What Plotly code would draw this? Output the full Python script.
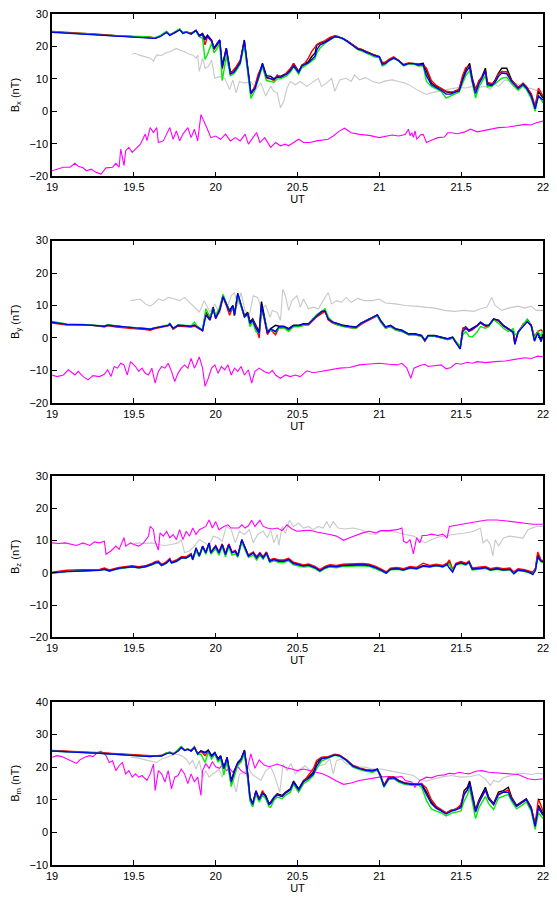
import plotly.graph_objects as go

# ---------------- Bx panel ----------------
BX_T = [19.0, 19.1, 19.2, 19.3, 19.4, 19.5, 19.55, 19.6, 19.63, 19.66,
        19.7, 19.72, 19.75, 19.78, 19.8, 19.82, 19.85, 19.88, 19.9, 19.92,
        19.935, 19.95, 19.975, 19.99, 20.01, 20.025, 20.04, 20.065, 20.09, 20.11,
        20.125, 20.15, 20.175, 20.19, 20.215, 20.24, 20.26, 20.286, 20.31, 20.336,
        20.356, 20.376, 20.396, 20.416, 20.436, 20.456, 20.476, 20.507, 20.527, 20.547,
        20.567, 20.587, 20.607, 20.618, 20.638, 20.668, 20.698, 20.728, 20.748, 20.778,
        20.808, 20.838, 20.868, 20.898, 20.918, 20.948, 20.968, 21.0, 21.018, 21.038,
        21.058, 21.088, 21.118, 21.148, 21.178, 21.208, 21.238, 21.268, 21.288, 21.318,
        21.348, 21.378, 21.408, 21.438, 21.468, 21.488, 21.508, 21.528, 21.552, 21.568,
        21.588, 21.608, 21.628, 21.648, 21.66, 21.688, 21.708, 21.728, 21.748, 21.778,
        21.808, 21.848, 21.878, 21.898, 21.928, 21.952, 21.972, 22.0]
BX_C1 = [24.5, 24.2, 24.0, 23.6, 23.3, 23.0, 23.0, 22.8, 22.6, 23.2,
         24.5, 23.5, 24.3, 25.3, 24.2, 24.5, 24.0, 25.0, 23.4, 24.0,
         22.5, 23.5, 22.0, 19.5, 21.0, 22.0, 14.0, 19.5, 12.0, 12.5,
         13.3, 15.3, 22.0, 16.0, 5.7, 7.5, 11.0, 14.8, 11.0, 10.8,
         10.0, 10.8, 10.8, 11.3, 11.8, 12.8, 14.8, 12.3, 14.3, 14.8,
         15.3, 16.9, 17.9, 20.4, 21.0, 21.5, 22.5, 23.2, 23.0, 22.5,
         21.6, 20.6, 19.4, 18.9, 18.4, 17.9, 17.4, 16.9, 14.8, 15.0,
         15.8, 16.6, 15.7, 14.3, 14.8, 14.8, 14.5, 14.8, 12.3, 8.7,
         7.7, 7.0, 6.0, 5.7, 6.4, 6.7, 10.2, 12.8, 14.8, 10.2,
         6.7, 9.2, 10.8, 13.3, 8.7, 8.2, 9.7, 11.8, 13.3, 13.3,
         9.7, 7.2, 8.7, 7.7, 5.2, 1.3, 6.2, 4.1]
BX_C2 = [24.6, 24.3, 24.1, 23.7, 23.2, 23.1, 22.9, 22.9, 22.5, 23.1,
         24.4, 23.6, 24.2, 25.2, 24.3, 24.4, 24.1, 24.8, 23.2, 23.6,
         20.5, 23.0, 21.5, 19.0, 20.5, 21.5, 13.0, 19.0, 11.5, 12.8,
         13.8, 15.8, 21.5, 15.0, 5.2, 7.8, 11.5, 14.2, 10.2, 10.0,
         9.5, 11.2, 10.5, 11.0, 12.0, 13.2, 14.5, 12.0, 14.0, 15.0,
         16.5, 18.5, 19.8, 20.6, 21.2, 21.8, 22.8, 23.3, 23.1, 22.4,
         21.5, 20.5, 19.5, 19.0, 18.3, 17.8, 17.5, 16.8, 15.0, 15.2,
         16.0, 16.8, 15.5, 14.5, 14.9, 14.7, 14.3, 14.3, 13.3, 9.5,
         8.0, 7.2, 6.2, 6.0, 6.2, 7.0, 11.0, 13.5, 13.8, 9.5,
         6.5, 9.5, 10.5, 12.5, 9.0, 8.5, 9.2, 11.5, 12.3, 12.2,
         9.5, 7.5, 8.5, 7.5, 5.5, 1.6, 7.2, 4.8]
BX_C3 = [24.6, 24.1, 24.0, 23.5, 23.3, 23.0, 23.1, 22.8, 22.7, 23.3,
         24.7, 23.4, 24.4, 25.4, 24.0, 24.6, 23.8, 24.8, 23.0, 22.5,
         16.0, 17.5, 21.0, 18.0, 19.5, 21.0, 9.5, 17.0, 11.0, 11.5,
         12.5, 14.5, 20.5, 14.0, 4.0, 6.5, 10.0, 13.8, 9.5, 9.2,
         9.0, 10.0, 10.0, 10.5, 11.0, 12.0, 13.8, 11.5, 13.5, 14.0,
         14.8, 15.5, 16.3, 18.0, 19.5, 21.0, 22.0, 23.0, 22.9, 22.3,
         21.3, 20.3, 19.0, 18.5, 18.0, 17.3, 16.8, 16.5, 14.0, 14.5,
         15.5, 16.3, 15.5, 14.0, 14.6, 14.6, 14.0, 14.0, 9.2, 7.7,
         7.0, 6.2, 4.1, 4.8, 5.5, 6.0, 8.5, 11.0, 12.5, 8.5,
         4.1, 7.5, 9.5, 11.0, 7.5, 7.8, 8.5, 9.5, 10.2, 10.5,
         8.5, 6.5, 7.8, 6.8, 4.0, 0.0, 5.0, 2.6]
BX_C4 = [24.4, 24.1, 23.9, 23.5, 23.2, 22.9, 22.9, 22.7, 22.5, 23.0,
         24.3, 23.4, 24.2, 25.1, 24.0, 24.4, 23.8, 24.9, 23.2, 23.8,
         22.0, 23.2, 21.8, 19.3, 20.8, 22.0, 13.5, 19.5, 11.5, 12.0,
         13.0, 15.0, 21.8, 15.5, 5.5, 7.0, 10.5, 14.5, 10.5, 10.2,
         9.8, 10.5, 10.5, 11.0, 11.5, 12.5, 14.0, 12.0, 14.0, 14.5,
         15.0, 16.0, 17.0, 19.0, 20.5, 21.2, 22.2, 23.0, 22.9, 22.4,
         21.4, 20.4, 19.2, 18.8, 18.2, 17.7, 17.2, 16.8, 14.5, 14.8,
         15.6, 16.4, 15.6, 14.2, 14.7, 14.7, 14.3, 14.4, 11.0, 8.2,
         7.3, 6.5, 5.3, 5.3, 6.0, 6.3, 9.5, 12.0, 13.8, 9.3,
         5.5, 8.5, 10.2, 12.5, 8.2, 8.0, 9.0, 10.8, 11.8, 11.6,
         9.2, 7.0, 8.3, 7.2, 4.7, 0.8, 4.7, 3.5]
BX_GREY_T = [19.49, 19.51, 19.53, 19.57, 19.60, 19.62, 19.64, 19.67, 19.69, 19.72,
             19.76, 19.78, 19.81, 19.84, 19.86, 19.88, 19.89, 19.90, 19.92, 19.935,
             19.955, 19.975, 19.995, 20.025, 20.055, 20.085, 20.105, 20.125, 20.145, 20.176,
             20.215, 20.246, 20.276, 20.306, 20.336, 20.356, 20.376, 20.396, 20.416, 20.436,
             20.456, 20.486, 20.517, 20.557, 20.597, 20.627, 20.647, 20.677, 20.708, 20.728,
             20.758, 20.798, 20.828, 20.848, 20.878, 20.918, 20.958, 21.0, 21.038, 21.078,
             21.118, 21.158, 21.198, 21.238, 21.288, 21.318, 21.378, 21.438, 21.488, 21.528,
             21.568, 21.608, 21.648, 21.678, 21.698, 21.728, 21.768, 21.808, 21.848, 21.888,
             21.928, 21.968, 22.0]
BX_GREY = [17.6, 17.9, 17.4, 16.9, 16.4, 15.5, 17.4, 17.2, 17.9, 18.4,
           19.4, 18.9, 18.4, 17.6, 17.4, 16.4, 17.4, 12.3, 16.4, 13.3,
           13.8, 15.8, 10.2, 10.7, 10.2, 6.7, 9.7, 5.7, 9.2, 8.7,
           9.2, 6.7, 8.7, 4.7, 7.7, 6.2, 5.7, 1.1, 3.1, 7.2,
           9.2, 8.2, 9.2, 7.7, 9.2, 10.2, 7.7, 8.7, 10.2, 6.2,
           9.7, 10.2, 9.2, 11.3, 9.7, 10.4, 9.2, 8.7, 9.4, 9.7,
           9.2, 8.7, 7.7, 6.4, 5.2, 5.7, 6.4, 7.0, 7.4, 7.2,
           7.7, 7.4, 7.7, 6.7, 8.7, 7.7, 9.7, 9.2, 8.2, 7.4,
           7.0, 6.4, 6.2]
BX_MAG_T = [19.0, 19.03, 19.07, 19.11, 19.14, 19.16, 19.19, 19.21, 19.24, 19.27,
            19.30, 19.33, 19.37, 19.39, 19.41, 19.42, 19.44, 19.45, 19.47, 19.49,
            19.51, 19.54, 19.57, 19.58, 19.60, 19.62, 19.64, 19.65, 19.68, 19.70,
            19.72, 19.74, 19.76, 19.78, 19.80, 19.83, 19.85, 19.87, 19.89, 19.91,
            19.93, 19.95, 19.97, 20.0, 20.03, 20.06, 20.09, 20.12, 20.15, 20.18,
            20.20, 20.23, 20.25, 20.27, 20.30, 20.336, 20.366, 20.396, 20.426, 20.446,
            20.476, 20.507, 20.537, 20.577, 20.617, 20.657, 20.687, 20.718, 20.758, 20.788,
            20.828, 20.878, 20.938, 21.0, 21.038, 21.078, 21.118, 21.158, 21.178, 21.188,
            21.198, 21.208, 21.218, 21.228, 21.238, 21.252, 21.268, 21.288, 21.318, 21.358,
            21.398, 21.418, 21.438, 21.478, 21.518, 21.558, 21.598, 21.648, 21.688, 21.728,
            21.788, 21.848, 21.888, 21.928, 21.958, 22.0]
BX_MAG = [-18.3, -17.8, -17.2, -17.2, -16.0, -16.9, -17.4, -18.3, -17.8, -18.8,
          -19.3, -17.4, -17.2, -16.0, -17.2, -11.6, -16.7, -12.1, -11.1, -12.6,
          -11.6, -10.1, -7.0, -9.0, -5.0, -6.5, -5.0, -9.6, -9.1, -7.0,
          -5.0, -8.6, -6.0, -9.1, -7.0, -5.0, -8.1, -5.5, -9.1, -1.0,
          -3.0, -5.5, -8.1, -7.6, -8.6, -7.0, -9.1, -8.1, -9.1, -7.0,
          -10.1, -8.1, -6.5, -9.6, -8.1, -11.1, -9.6, -10.6, -10.1, -10.6,
          -9.6, -8.6, -9.6, -9.6, -9.1, -8.9, -8.6, -7.6, -6.0, -5.2,
          -6.6, -7.1, -7.4, -8.1, -7.6, -7.3, -7.6, -7.1, -5.5, -7.5,
          -6.6, -8.0, -6.0, -8.5, -8.1, -7.2, -7.1, -9.6, -8.9, -8.1,
          -7.9, -6.6, -6.6, -6.9, -6.4, -5.5, -6.3, -5.8, -5.5, -5.0,
          -4.8, -4.3, -4.0, -4.2, -3.5, -3.0]

# ---------------- By panel ----------------
BY_T = [19.0, 19.09, 19.19, 19.27, 19.32, 19.34, 19.39, 19.45, 19.51, 19.57,
        19.6, 19.63, 19.67, 19.71, 19.72, 19.74, 19.77, 19.81, 19.85, 19.87,
        19.89, 19.92, 19.94, 19.965, 19.985, 20.0, 20.025, 20.045, 20.065, 20.085,
        20.105, 20.115, 20.135, 20.155, 20.176, 20.196, 20.21, 20.226, 20.246, 20.266,
        20.28, 20.296, 20.316, 20.336, 20.366, 20.386, 20.416, 20.446, 20.476, 20.507,
        20.537, 20.567, 20.597, 20.617, 20.647, 20.668, 20.688, 20.718, 20.748, 20.778,
        20.818, 20.858, 20.888, 20.918, 20.958, 20.988, 21.008, 21.038, 21.068, 21.098,
        21.138, 21.178, 21.218, 21.258, 21.278, 21.298, 21.338, 21.378, 21.418, 21.448,
        21.468, 21.494, 21.51, 21.528, 21.548, 21.568, 21.598, 21.618, 21.648, 21.668,
        21.698, 21.728, 21.758, 21.788, 21.818, 21.828, 21.848, 21.878, 21.904, 21.928,
        21.948, 21.968, 21.988, 22.0]
BY_C1 = [4.9, 4.2, 4.1, 3.9, 3.6, 4.0, 3.6, 3.3, 3.1, 2.9,
         2.7, 3.1, 3.6, 3.9, 4.4, 2.9, 3.9, 3.7, 3.6, 3.9,
         3.4, 2.4, 7.9, 5.9, 9.5, 6.4, 9.0, 13.0, 10.5, 8.5,
         10.0, 7.4, 13.5, 10.0, 6.9, 7.9, 4.9, 5.9, 3.9, 1.9,
         11.2, 6.9, 1.9, 2.9, 3.9, 3.6, 3.6, 2.9, 3.9, 3.9,
         4.4, 4.4, 5.9, 6.9, 7.9, 8.5, 5.9, 4.9, 4.4, 3.9,
         3.6, 3.4, 4.6, 5.4, 6.4, 7.1, 5.4, 3.4, 3.9, 2.9,
         2.4, 1.3, 1.3, 0.8, -0.7, 0.8, 0.8, 0.3, -0.2, 0.3,
         -1.2, -3.2, 2.9, 3.4, 2.4, 2.9, 3.9, 4.9, 3.9, 3.9,
         5.9, 5.4, 3.9, 2.9, 1.9, -1.7, 1.9, 3.9, 5.7, 3.9,
         -0.7, 1.9, -0.7, 1.3]
BY_C2 = [4.6, 4.0, 4.0, 3.8, 3.4, 3.8, 3.4, 3.0, 2.8, 2.6,
         2.4, 2.9, 3.4, 3.7, 4.2, 2.7, 3.7, 3.5, 3.4, 3.7,
         3.2, 2.2, 7.5, 5.5, 9.0, 6.0, 8.5, 12.5, 10.0, 7.0,
         9.5, 6.8, 13.0, 9.5, 6.5, 7.5, 4.0, 5.5, 3.5, 0.0,
         9.0, 6.0, 1.0, 2.5, 1.0, 3.0, 3.2, 2.5, 3.6, 3.5,
         4.0, 4.0, 5.5, 6.5, 7.5, 8.2, 5.5, 4.5, 4.0, 3.6,
         3.2, 3.0, 4.2, 5.0, 6.0, 6.8, 5.0, 3.0, 3.5, 2.5,
         2.0, 1.0, 1.0, 0.5, -1.0, 0.5, 0.5, 0.0, -0.5, 0.0,
         -1.5, -3.0, 3.0, 3.2, 2.0, 2.5, 3.6, 4.6, 3.6, 3.6,
         5.6, 5.2, 3.6, 2.6, 1.6, -1.5, 1.6, 4.3, 5.2, 4.0,
         0.5, 2.0, 2.5, 1.8]
BY_C3 = [5.1, 4.3, 4.2, 4.0, 3.7, 4.1, 3.7, 3.4, 3.2, 3.0,
         2.8, 3.2, 3.7, 4.0, 4.5, 3.0, 4.0, 3.8, 3.8, 4.9,
         3.5, 2.5, 9.0, 6.5, 9.0, 7.0, 9.5, 13.5, 11.0, 8.0,
         9.5, 7.0, 13.0, 9.5, 6.5, 7.0, 3.5, 5.0, 1.9, 1.5,
         8.0, 6.5, 2.5, 2.5, 1.8, 3.0, 3.2, 2.0, 3.5, 3.5,
         3.8, 4.2, 6.0, 7.2, 8.2, 9.0, 6.5, 4.7, 4.0, 3.5,
         3.2, 3.0, 4.5, 5.4, 6.3, 6.9, 5.0, 3.0, 3.5, 2.5,
         2.0, 1.0, 1.0, 0.5, -0.8, 0.5, 0.5, 0.0, -0.5, 0.0,
         -1.0, -2.5, 1.0, 2.0, 0.5, 0.3, 1.9, 3.5, 3.0, 3.5,
         5.7, 4.5, 3.0, 2.0, 2.9, 1.0, 1.5, 4.0, 5.7, 3.5,
         0.0, 2.0, 0.5, 2.5]
BY_C4 = [4.9, 4.2, 4.1, 3.9, 3.6, 3.9, 3.6, 3.3, 3.1, 2.9,
         2.7, 3.1, 3.6, 3.9, 4.3, 3.0, 3.9, 3.7, 3.6, 4.0,
         3.3, 2.3, 7.0, 5.5, 9.0, 6.0, 8.8, 12.8, 10.5, 8.0,
         10.0, 7.0, 13.8, 10.0, 6.5, 7.5, 4.5, 5.5, 3.0, 1.5,
         10.0, 6.5, 1.5, 2.8, 2.0, 3.4, 3.5, 2.8, 3.8, 3.8,
         4.3, 4.3, 5.8, 6.8, 8.2, 8.3, 5.8, 4.8, 4.3, 3.8,
         3.5, 3.3, 4.5, 5.3, 6.3, 7.1, 5.3, 3.3, 3.8, 2.8,
         2.3, 1.2, 1.2, 0.7, -0.8, 0.7, 0.7, 0.2, -0.3, 0.2,
         -1.3, -3.4, 2.0, 3.0, 2.2, 2.7, 3.7, 4.8, 3.8, 3.8,
         5.8, 5.5, 3.8, 2.8, 1.8, -2.0, 1.8, 3.5, 5.0, 3.8,
         -1.0, 1.5, -1.2, 0.8]
BY_GREY_T = [19.48, 19.51, 19.54, 19.57, 19.6, 19.62, 19.65, 19.68, 19.71, 19.75,
             19.78, 19.81, 19.84, 19.87, 19.9, 19.93, 19.965, 19.995, 20.025, 20.045,
             20.075, 20.095, 20.115, 20.135, 20.155, 20.18, 20.205, 20.23, 20.256, 20.28,
             20.306, 20.332, 20.346, 20.376, 20.396, 20.41, 20.426, 20.446, 20.466, 20.497,
             20.517, 20.537, 20.567, 20.597, 20.627, 20.657, 20.688, 20.708, 20.738, 20.768,
             20.798, 20.828, 20.868, 20.908, 20.958, 21.0, 21.038, 21.098, 21.158, 21.218,
             21.278, 21.338, 21.398, 21.458, 21.518, 21.578, 21.618, 21.658, 21.686, 21.708,
             21.748, 21.788, 21.848, 21.888, 21.928, 21.958, 22.0]
BY_GREY = [11.5, 11.7, 12.0, 10.5, 9.8, 10.5, 12.0, 11.5, 12.5, 12.0,
           11.5, 12.5, 11.0, 9.5, 8.0, 11.5, 8.0, 10.5, 7.4, 12.0,
           10.0, 13.0, 14.0, 10.0, 14.0, 8.5, 6.9, 13.0, 12.5, 9.0,
           10.0, 6.4, 8.5, 7.9, 5.4, 15.0, 13.0, 8.5, 11.5, 13.0,
           9.5, 12.0, 9.0, 9.5, 9.0, 11.5, 14.0, 10.5, 11.5, 11.0,
           12.5, 11.0, 12.2, 11.5, 11.5, 12.0, 10.8, 10.5, 10.0, 9.8,
           9.5, 9.2, 8.5, 8.2, 8.5, 8.2, 9.0, 9.5, 12.5, 10.0,
           8.5, 9.2, 9.8, 9.2, 9.8, 8.5, 8.5]
BY_MAG_T = [19.0, 19.03, 19.07, 19.1, 19.14, 19.16, 19.19, 19.22, 19.25, 19.29,
            19.32, 19.34, 19.36, 19.38, 19.4, 19.42, 19.44, 19.46, 19.48, 19.51,
            19.53, 19.55, 19.57, 19.59, 19.61, 19.63, 19.65, 19.67, 19.69, 19.71,
            19.73, 19.75, 19.77, 19.79, 19.81, 19.83, 19.85, 19.87, 19.88, 19.9,
            19.92, 19.935, 19.955, 19.975, 19.995, 20.015, 20.035, 20.055, 20.075, 20.095,
            20.115, 20.135, 20.155, 20.176, 20.2, 20.22, 20.24, 20.266, 20.296, 20.326,
            20.346, 20.366, 20.396, 20.426, 20.456, 20.486, 20.517, 20.557, 20.597, 20.637,
            20.698, 20.758, 20.818, 20.878, 20.938, 21.0, 21.058, 21.108, 21.138, 21.168,
            21.192, 21.212, 21.248, 21.278, 21.298, 21.338, 21.378, 21.408, 21.438, 21.468,
            21.498, 21.538, 21.568, 21.598, 21.648, 21.708, 21.768, 21.828, 21.888, 21.928,
            21.968, 22.0]
BY_MAG = [-11.4, -11.9, -11.4, -9.8, -11.4, -10.3, -11.9, -12.9, -11.6, -11.9,
          -11.2, -9.8, -11.9, -8.8, -9.3, -7.8, -8.3, -11.4, -7.3, -8.8,
          -10.3, -9.3, -10.9, -11.4, -9.3, -13.9, -10.3, -8.8, -9.3, -7.8,
          -10.3, -13.4, -10.9, -9.3, -8.3, -9.3, -6.3, -9.3, -8.3, -5.8,
          -9.3, -14.9, -12.4, -9.3, -8.3, -10.9, -8.8, -9.8, -8.3, -11.4,
          -9.3, -10.3, -8.8, -11.4, -9.8, -13.9, -10.3, -9.3, -10.3, -10.9,
          -10.0, -11.4, -12.4, -11.4, -11.9, -11.4, -11.9, -10.1, -10.7, -10.3,
          -9.8, -9.3, -9.1, -8.3, -8.0, -7.8, -8.1, -8.3, -7.8, -9.3,
          -12.4, -9.3, -8.5, -8.1, -8.8, -8.5, -8.3, -9.5, -9.1, -7.8,
          -8.1, -7.5, -7.8, -7.3, -7.6, -7.3, -7.1, -6.6, -6.1, -6.3,
          -5.6, -5.8]

# ---------------- Bz panel ----------------
BZ_T = [19.0, 19.09, 19.19, 19.29, 19.32, 19.35, 19.41, 19.49, 19.53, 19.57,
        19.61, 19.63, 19.65, 19.67, 19.7, 19.72, 19.73, 19.76, 19.79, 19.82,
        19.85, 19.86, 19.88, 19.9, 19.92, 19.94, 19.96, 19.97, 20.0, 20.02,
        20.04, 20.06, 20.08, 20.1, 20.12, 20.135, 20.16, 20.18, 20.2, 20.23,
        20.25, 20.27, 20.29, 20.31, 20.33, 20.356, 20.386, 20.416, 20.446, 20.476,
        20.507, 20.537, 20.567, 20.607, 20.637, 20.668, 20.698, 20.738, 20.778, 20.818,
        20.858, 20.898, 20.938, 20.978, 21.018, 21.042, 21.068, 21.108, 21.148, 21.188,
        21.228, 21.268, 21.308, 21.348, 21.388, 21.414, 21.428, 21.448, 21.468, 21.498,
        21.528, 21.548, 21.568, 21.608, 21.648, 21.678, 21.718, 21.758, 21.798, 21.822,
        21.848, 21.888, 21.918, 21.938, 21.954, 21.968, 21.988, 22.0]
BZ_C1 = [0.0, 0.5, 0.7, 0.9, 1.2, 0.7, 1.5, 2.0, 1.7, 2.0,
         2.7, 3.2, 3.4, 2.4, 3.2, 4.2, 3.2, 3.7, 4.7, 4.7,
         5.8, 4.2, 7.3, 5.3, 8.3, 6.3, 9.3, 6.3, 8.3, 6.3,
         8.8, 5.8, 8.8, 6.3, 6.8, 5.3, 10.3, 7.8, 5.3, 6.3,
         4.7, 6.1, 4.7, 6.3, 3.7, 4.2, 3.7, 3.7, 4.2, 3.0,
         2.7, 2.2, 2.5, 1.7, 0.7, 1.7, 2.2, 2.0, 2.4, 2.5,
         2.4, 2.6, 2.4, 1.7, 0.7, 0.0, 1.2, 1.4, 1.0, 1.7,
         1.4, 2.2, 2.0, 2.4, 2.0, 2.7, 3.2, 0.7, 2.7, 3.2,
         2.7, 3.4, 1.2, 1.4, 1.7, 1.0, 1.4, 1.0, 1.2, 0.0,
         1.0, 0.7, 0.2, -0.1, 1.2, 5.8, 3.7, 3.5]
BZ_C2 = [0.2, 0.8, 1.0, 1.1, 1.5, 0.9, 1.7, 2.2, 1.9, 2.2,
         2.9, 3.5, 3.7, 2.6, 3.5, 4.5, 3.4, 4.0, 5.0, 5.0,
         6.0, 4.5, 7.0, 5.5, 8.0, 6.5, 9.0, 6.5, 8.5, 6.5,
         9.0, 6.0, 9.0, 6.5, 7.0, 5.5, 10.0, 8.0, 5.5, 6.5,
         5.0, 6.3, 5.0, 6.5, 4.0, 4.5, 4.0, 4.0, 4.5, 3.3,
         3.0, 2.5, 2.8, 2.0, 1.0, 2.0, 2.5, 2.3, 2.7, 2.8,
         2.7, 2.9, 2.7, 2.0, 1.0, 0.3, 1.5, 1.7, 1.3, 2.0,
         1.7, 3.0, 2.3, 2.7, 2.3, 3.0, 4.0, 1.0, 3.0, 3.5,
         3.0, 3.7, 1.5, 1.7, 2.0, 1.3, 1.7, 1.3, 1.5, 0.3,
         1.3, 1.0, 0.5, 0.2, 1.5, 6.5, 4.0, 3.8]
BZ_C3 = [-0.1, 0.4, 0.6, 0.8, 1.0, 0.5, 1.3, 1.8, 1.5, 1.8,
         2.5, 3.0, 3.2, 2.2, 3.0, 4.0, 3.0, 3.5, 4.5, 4.5,
         5.5, 4.0, 6.8, 5.0, 7.8, 5.8, 8.8, 5.8, 7.5, 5.5,
         8.0, 5.0, 8.0, 5.5, 6.0, 4.8, 9.5, 7.0, 4.8, 5.5,
         4.0, 5.5, 4.2, 5.8, 3.2, 3.7, 3.2, 3.2, 3.7, 2.5,
         2.2, 1.8, 2.0, 1.3, 0.4, 1.3, 1.8, 1.6, 2.0, 2.1,
         2.0, 2.2, 2.0, 1.3, 0.4, -0.2, 0.9, 1.1, 0.8, 1.4,
         1.2, 2.0, 1.8, 2.2, 1.8, 2.4, 2.9, 0.5, 2.4, 2.9,
         2.4, 3.1, 0.9, 1.1, 1.4, 0.7, 1.1, 0.7, 0.9, -0.2,
         0.7, 0.4, 0.0, -0.3, 0.9, 4.8, 3.4, 3.2]
BZ_C4 = [0.0, 0.4, 0.6, 0.8, 1.1, 0.6, 1.4, 1.9, 1.6, 1.9,
         2.6, 3.1, 3.3, 2.3, 3.1, 4.1, 3.1, 3.6, 4.6, 4.6,
         5.6, 4.1, 7.8, 5.2, 8.2, 6.2, 9.2, 6.2, 8.2, 6.2,
         8.7, 5.7, 8.7, 6.2, 6.7, 5.2, 10.3, 7.7, 5.2, 6.2,
         4.6, 6.0, 4.6, 6.2, 3.6, 4.1, 3.6, 3.6, 4.1, 2.9,
         2.6, 2.1, 2.4, 1.6, 0.6, 1.6, 2.1, 1.9, 2.3, 2.4,
         2.3, 2.5, 2.3, 1.6, 0.6, -0.1, 1.1, 1.3, 0.9, 1.6,
         1.3, 2.1, 1.9, 2.3, 1.9, 2.6, 1.5, 0.2, 2.6, 3.1,
         2.6, 3.3, 1.1, 1.3, 1.6, 0.9, 1.3, 0.9, 1.1, -0.3,
         0.9, 0.6, 0.1, -0.5, 0.8, 5.0, 3.6, 3.4]
BZ_GREY_T = [19.5, 19.53, 19.57, 19.61, 19.65, 19.69, 19.73, 19.77, 19.79, 19.81,
             19.84, 19.87, 19.9, 19.935, 19.96, 19.985, 20.015, 20.04, 20.065, 20.095,
             20.12, 20.145, 20.176, 20.206, 20.23, 20.256, 20.29, 20.316, 20.336, 20.356,
             20.376, 20.386, 20.406, 20.426, 20.45, 20.476, 20.507, 20.537, 20.567, 20.597,
             20.627, 20.657, 20.678, 20.698, 20.718, 20.748, 20.788, 20.838, 20.888, 20.938,
             20.978, 21.008, 21.058, 21.108, 21.158, 21.208, 21.248, 21.278, 21.318, 21.358,
             21.408, 21.458, 21.518, 21.578, 21.618, 21.634, 21.658, 21.678, 21.694, 21.708,
             21.728, 21.758, 21.798, 21.838, 21.878, 21.908, 21.928, 21.958, 22.0]
BZ_GREY = [9.0, 9.3, 9.1, 9.3, 8.8, 8.5, 8.8, 9.3, 10.3, 6.3,
           6.8, 8.3, 10.3, 9.3, 8.3, 11.4, 10.9, 9.8, 14.4, 13.4,
           9.3, 12.9, 11.9, 13.4, 9.3, 11.9, 12.9, 10.9, 13.4, 9.3,
           11.9, 8.5, 14.4, 12.2, 16.3, 14.4, 15.4, 13.9, 14.4, 13.4,
           14.4, 13.9, 15.9, 13.9, 15.9, 13.9, 13.6, 13.9, 13.4, 12.2,
           11.9, 12.9, 12.9, 12.6, 11.9, 11.4, 10.3, 9.3, 10.3, 11.1,
           11.5, 12.0, 12.3, 12.9, 13.9, 9.3, 10.3, 8.8, 5.3, 10.3,
           8.3, 10.8, 11.4, 11.1, 10.8, 13.4, 13.9, 14.4, 14.4]
BZ_MAG_T = [19.0, 19.04, 19.08, 19.12, 19.15, 19.19, 19.23, 19.26, 19.29, 19.32,
            19.33, 19.36, 19.39, 19.41, 19.44, 19.45, 19.48, 19.5, 19.53, 19.56,
            19.59, 19.6, 19.62, 19.63, 19.65, 19.66, 19.68, 19.7, 19.72, 19.74,
            19.76, 19.78, 19.8, 19.82, 19.84, 19.86, 19.88, 19.9, 19.92, 19.94,
            19.96, 19.98, 20.0, 20.02, 20.05, 20.075, 20.095, 20.12, 20.14, 20.16,
            20.18, 20.2, 20.22, 20.24, 20.27, 20.29, 20.316, 20.346, 20.376, 20.406,
            20.436, 20.466, 20.497, 20.537, 20.577, 20.617, 20.657, 20.698, 20.738, 20.782,
            20.818, 20.858, 20.898, 20.938, 20.978, 21.008, 21.058, 21.108, 21.138, 21.148,
            21.168, 21.188, 21.208, 21.228, 21.248, 21.262, 21.288, 21.318, 21.358, 21.388,
            21.414, 21.428, 21.458, 21.498, 21.538, 21.578, 21.618, 21.658, 21.718, 21.778,
            21.838, 21.898, 21.938, 22.0]
BZ_MAG = [9.3, 9.1, 9.3, 8.8, 8.5, 9.3, 8.5, 9.6, 9.3, 9.8,
          5.8, 6.8, 8.3, 7.3, 10.9, 8.3, 9.3, 8.8, 8.3, 9.3,
          11.4, 14.4, 13.4, 9.8, 7.1, 12.4, 11.4, 12.9, 10.9, 11.9,
          10.3, 13.4, 10.3, 12.9, 11.4, 13.9, 11.9, 13.4, 13.9, 14.4,
          16.4, 13.9, 15.9, 13.4, 14.4, 14.9, 13.9, 13.9, 13.9, 14.9,
          13.9, 14.6, 16.3, 14.4, 16.3, 14.4, 13.9, 13.6, 13.9, 13.1,
          14.9, 13.6, 12.9, 13.1, 13.2, 12.7, 12.4, 11.9, 11.4, 10.1,
          10.9, 11.7, 12.4, 12.9, 12.4, 13.1, 13.1, 13.4, 13.9, 9.8,
          9.3, 10.3, 5.9, 10.9, 9.3, 11.6, 11.6, 12.0, 11.6, 12.0,
          10.8, 14.4, 14.7, 15.1, 15.4, 15.7, 16.1, 16.4, 16.4, 16.1,
          15.7, 15.4, 15.1, 15.1]

# ---------------- Bm panel ----------------
BM_T = [19.0, 19.09, 19.19, 19.29, 19.39, 19.49, 19.57, 19.6, 19.63, 19.67,
        19.7, 19.72, 19.74, 19.77, 19.79, 19.81, 19.83, 19.85, 19.87, 19.89,
        19.91, 19.935, 19.955, 19.975, 19.995, 20.015, 20.03, 20.05, 20.07, 20.095,
        20.115, 20.135, 20.155, 20.176, 20.196, 20.21, 20.226, 20.246, 20.266, 20.286,
        20.306, 20.326, 20.336, 20.356, 20.376, 20.406, 20.426, 20.456, 20.476, 20.507,
        20.537, 20.567, 20.597, 20.617, 20.647, 20.687, 20.728, 20.758, 20.798, 20.838,
        20.878, 20.918, 20.958, 20.988, 21.008, 21.028, 21.058, 21.088, 21.118, 21.158,
        21.198, 21.238, 21.258, 21.288, 21.318, 21.348, 21.378, 21.408, 21.438, 21.468,
        21.498, 21.518, 21.538, 21.552, 21.568, 21.588, 21.608, 21.628, 21.648, 21.668,
        21.698, 21.728, 21.758, 21.788, 21.808, 21.838, 21.868, 21.898, 21.928, 21.952,
        21.972, 22.0]
BM_C1 = [25.0, 24.7, 24.5, 24.3, 24.0, 23.6, 23.5, 23.3, 23.5, 23.5,
         24.2, 24.5, 24.0, 25.0, 26.2, 25.2, 25.5, 25.0, 26.2, 24.0,
         25.0, 24.5, 25.2, 23.5, 24.5, 22.5, 23.5, 19.9, 23.0, 15.9,
         18.9, 21.4, 22.5, 25.2, 17.9, 10.8, 8.8, 12.8, 10.3, 12.3,
         11.3, 8.8, 9.3, 10.8, 11.8, 11.3, 12.3, 13.3, 15.7, 13.3,
         15.9, 16.9, 18.4, 21.4, 22.8, 23.0, 23.8, 23.5, 22.2, 20.4,
         19.6, 19.1, 18.9, 19.4, 17.4, 14.3, 16.7, 16.9, 15.9, 15.1,
         14.9, 14.9, 14.9, 12.3, 9.3, 7.7, 6.9, 5.9, 6.7, 7.2,
         8.0, 12.8, 13.8, 15.7, 11.8, 6.9, 9.8, 11.6, 13.8, 10.8,
         8.8, 12.3, 12.8, 13.8, 10.8, 8.3, 9.3, 10.3, 7.7, 2.2,
         8.3, 5.7]
BM_C2 = [25.1, 24.8, 24.6, 24.4, 24.1, 23.7, 23.6, 23.4, 23.4, 23.6,
         24.3, 24.4, 24.1, 24.9, 26.0, 25.3, 25.4, 25.1, 26.0, 24.2,
         24.8, 23.5, 24.8, 23.0, 24.0, 22.0, 23.0, 19.5, 22.5, 15.0,
         18.5, 21.0, 22.0, 24.8, 17.0, 10.2, 8.5, 12.5, 10.0, 12.8,
         11.0, 8.5, 9.0, 10.5, 11.5, 11.0, 12.0, 13.0, 15.2, 13.0,
         15.5, 17.5, 19.5, 22.0, 23.0, 23.2, 23.9, 23.6, 22.3, 20.5,
         19.7, 19.2, 19.0, 19.3, 17.0, 14.5, 17.0, 16.8, 15.8, 15.0,
         14.8, 14.8, 15.0, 13.5, 10.0, 8.0, 7.0, 6.0, 6.8, 7.0,
         8.5, 12.0, 13.0, 14.5, 11.0, 6.5, 9.5, 11.0, 13.0, 10.5,
         8.5, 11.8, 12.3, 13.0, 10.5, 8.0, 9.0, 10.0, 7.5, 2.5,
         10.3, 6.5]
BM_C3 = [24.9, 24.6, 24.4, 24.2, 23.9, 23.5, 23.4, 23.2, 23.4, 23.4,
         24.3, 24.6, 23.9, 25.2, 26.3, 25.1, 25.6, 24.8, 26.1, 23.8,
         24.0, 21.4, 24.5, 22.5, 24.0, 21.5, 22.5, 17.5, 22.0, 14.0,
         17.5, 20.5, 21.5, 24.0, 16.5, 9.5, 7.8, 11.5, 9.3, 11.3,
         10.3, 7.8, 7.7, 9.8, 10.8, 10.3, 11.3, 12.3, 14.7, 12.3,
         14.9, 15.9, 17.4, 19.5, 21.8, 22.8, 23.6, 23.3, 22.0, 20.0,
         19.2, 18.7, 18.4, 19.0, 16.9, 13.8, 16.2, 16.4, 15.4, 14.6,
         14.4, 14.5, 13.8, 9.8, 7.2, 6.5, 6.0, 5.0, 5.8, 6.2,
         6.5, 9.5, 11.5, 13.5, 9.5, 4.2, 7.5, 9.5, 11.0, 8.8,
         7.0, 10.5, 11.0, 11.6, 9.5, 7.2, 8.2, 9.3, 6.5, 0.9,
         6.0, 4.3]
BM_C4 = [24.9, 24.6, 24.4, 24.2, 23.9, 23.5, 23.4, 23.2, 23.4, 23.4,
         24.1, 24.4, 23.9, 24.9, 26.0, 25.1, 25.4, 24.9, 26.0, 24.0,
         24.9, 24.3, 25.0, 23.3, 24.3, 22.3, 23.3, 19.5, 22.8, 15.5,
         18.7, 21.2, 22.3, 25.0, 17.5, 10.5, 8.5, 12.5, 10.0, 12.0,
         11.0, 8.5, 8.8, 10.5, 11.5, 11.0, 12.0, 13.0, 15.3, 13.0,
         15.5, 16.5, 17.8, 20.4, 22.5, 22.9, 23.7, 23.4, 22.1, 20.3,
         19.5, 19.0, 18.8, 19.3, 17.2, 14.1, 16.5, 16.7, 15.7, 14.9,
         14.7, 14.7, 14.6, 11.5, 8.8, 7.3, 6.6, 5.6, 6.4, 6.9,
         7.5, 11.5, 13.0, 14.8, 11.0, 6.2, 9.0, 11.0, 13.0, 10.2,
         8.5, 11.5, 12.3, 12.3, 10.2, 8.0, 9.0, 10.0, 7.2, 1.8,
         7.5, 5.2]
BM_GREY_T = [19.48, 19.52, 19.57, 19.61, 19.64, 19.67, 19.7, 19.73, 19.76, 19.79,
             19.82, 19.84, 19.86, 19.88, 19.9, 19.92, 19.94, 19.96, 19.98, 20.0,
             20.02, 20.04, 20.065, 20.085, 20.11, 20.125, 20.145, 20.176, 20.2, 20.22,
             20.246, 20.276, 20.306, 20.336, 20.356, 20.376, 20.392, 20.412, 20.436, 20.46,
             20.486, 20.517, 20.547, 20.577, 20.607, 20.637, 20.668, 20.698, 20.718, 20.738,
             20.768, 20.798, 20.838, 20.878, 20.918, 20.958, 21.008, 21.058, 21.108, 21.158,
             21.208, 21.248, 21.288, 21.318, 21.378, 21.438, 21.498, 21.558, 21.608, 21.648,
             21.678, 21.698, 21.728, 21.758, 21.798, 21.838, 21.878, 21.928, 21.968, 22.0]
BM_GREY = [23.0, 22.8, 22.2, 21.7, 21.4, 22.5, 23.0, 23.5, 24.0, 23.5,
           22.5, 20.9, 22.0, 19.4, 22.0, 16.9, 18.9, 16.9, 17.9, 18.4,
           19.4, 16.9, 21.1, 17.4, 15.4, 12.3, 17.9, 18.4, 19.9, 17.9,
           16.9, 15.9, 18.9, 19.9, 17.9, 14.9, 12.3, 20.9, 18.9, 21.1,
           17.9, 19.4, 20.4, 18.9, 20.2, 20.4, 20.9, 22.5, 17.9, 21.9,
           22.5, 20.9, 20.7, 20.1, 19.9, 19.4, 19.4, 18.9, 18.4, 17.9,
           17.4, 15.9, 15.7, 16.1, 16.9, 17.4, 16.9, 17.1, 17.7, 16.4,
           14.3, 15.9, 15.4, 16.7, 17.4, 17.9, 18.1, 17.7, 18.1, 17.9]
BM_MAG_T = [19.0, 19.03, 19.06, 19.09, 19.12, 19.15, 19.17, 19.2, 19.23, 19.25,
            19.28, 19.3, 19.33, 19.35, 19.37, 19.39, 19.41, 19.43, 19.45, 19.47,
            19.49, 19.51, 19.53, 19.55, 19.58, 19.6, 19.62, 19.63, 19.65, 19.67,
            19.69, 19.71, 19.73, 19.75, 19.77, 19.79, 19.81, 19.83, 19.85, 19.87,
            19.89, 19.91, 19.92, 19.94, 19.96, 19.98, 20.0, 20.025, 20.045, 20.065,
            20.085, 20.105, 20.13, 20.155, 20.185, 20.215, 20.24, 20.266, 20.296, 20.326,
            20.346, 20.376, 20.406, 20.436, 20.466, 20.497, 20.537, 20.577, 20.617, 20.657,
            20.698, 20.738, 20.782, 20.828, 20.878, 20.938, 21.0, 21.058, 21.108, 21.138,
            21.158, 21.198, 21.218, 21.248, 21.288, 21.318, 21.358, 21.398, 21.428, 21.458,
            21.488, 21.518, 21.548, 21.588, 21.628, 21.668, 21.728, 21.788, 21.848, 21.908,
            21.948, 22.0]
BM_MAG = [23.0, 23.5, 23.2, 22.5, 21.7, 21.1, 22.2, 23.0, 23.5, 23.2,
          24.5, 24.8, 23.5, 21.4, 21.9, 18.9, 20.4, 21.4, 17.9, 18.9,
          16.9, 17.9, 16.9, 17.4, 15.9, 17.9, 20.9, 12.8, 18.9, 17.9,
          15.4, 18.9, 13.3, 16.9, 17.4, 19.4, 17.9, 14.9, 17.9, 15.4,
          16.9, 11.3, 18.9, 21.1, 19.6, 21.6, 20.1, 19.6, 21.1, 18.9,
          19.6, 18.4, 20.4, 18.9, 17.9, 24.0, 19.6, 22.2, 20.6, 20.1,
          20.4, 20.9, 20.4, 19.7, 19.4, 18.9, 19.4, 18.9, 18.4, 17.9,
          16.9, 15.7, 14.7, 15.1, 15.9, 16.4, 16.9, 17.1, 16.9, 17.1,
          15.9, 15.4, 13.8, 15.9, 16.9, 16.7, 17.4, 17.6, 18.1, 17.9,
          18.4, 18.1, 17.9, 18.7, 18.9, 18.4, 18.2, 18.1, 17.7, 16.4,
          16.1, 16.4]

X_TICKS = [19, 19.5, 20, 20.5, 21, 21.5, 22]
X_TICK_TEXT = ["19", "19.5", "20", "20.5", "21", "21.5", "22"]
Y_LABELS = ["B<sub>x</sub> (nT)", "B<sub>y</sub> (nT)", "B<sub>z</sub> (nT)", "B<sub>m</sub> (nT)"]
Y_RANGES = [[-20, 30], [-20, 30], [-20, 30], [-10, 40]]

PANELS = [
    (BX_T, [BX_C1, BX_C2, BX_C3, BX_C4], BX_GREY_T, BX_GREY, BX_MAG_T, BX_MAG),
    (BY_T, [BY_C1, BY_C2, BY_C3, BY_C4], BY_GREY_T, BY_GREY, BY_MAG_T, BY_MAG),
    (BZ_T, [BZ_C1, BZ_C2, BZ_C3, BZ_C4], BZ_GREY_T, BZ_GREY, BZ_MAG_T, BZ_MAG),
    (BM_T, [BM_C1, BM_C2, BM_C3, BM_C4], BM_GREY_T, BM_GREY, BM_MAG_T, BM_MAG),
]
SC_COLORS = ["#000000", "#ff0000", "#00ee00", "#0000ff"]
GREY_COLOR = "#c8c8c8"
MAG_COLOR = "#ff00ff"

# pixel layout: plot areas at y 12-176, 241-405, 479-642, 707-872 of 900
H, W = 900, 557
MT, MB, ML, MR = 12, 28, 52, 8
PH = H - MT - MB
PIX = [(12, 176), (241, 405), (479, 642), (707, 872)]
DOMAINS = [[(H - MB - b) / PH, (H - MB - t) / PH] for t, b in PIX]

FONT = "Liberation Sans, Arial, Helvetica, sans-serif"

fig = go.Figure()
layout = dict(
    width=W, height=H,
    margin=dict(l=ML, r=MR, t=MT, b=MB),
    paper_bgcolor="white", plot_bgcolor="white",
    showlegend=False,
    font=dict(family=FONT, size=11, color="black"),
)

for i, (t, cl, gt, gv, mt, mv) in enumerate(PANELS):
    n = i + 1
    xa = "x" if n == 1 else f"x{n}"
    ya = "y" if n == 1 else f"y{n}"
    fig.add_trace(go.Scatter(x=gt, y=gv, mode="lines", xaxis=xa, yaxis=ya,
                             line=dict(color=GREY_COLOR, width=1.1), hoverinfo="skip"))
    fig.add_trace(go.Scatter(x=mt, y=mv, mode="lines", xaxis=xa, yaxis=ya,
                             line=dict(color=MAG_COLOR, width=1.1), hoverinfo="skip"))
    for vals, col in zip(cl, SC_COLORS):
        fig.add_trace(go.Scatter(x=t, y=vals, mode="lines", xaxis=xa, yaxis=ya,
                                 line=dict(color=col, width=1.4), hoverinfo="skip"))
    xkey = "xaxis" if n == 1 else f"xaxis{n}"
    ykey = "yaxis" if n == 1 else f"yaxis{n}"
    layout[xkey] = dict(
        domain=[0, 1], anchor=ya, range=[19, 22],
        tickmode="array", tickvals=X_TICKS, ticktext=X_TICK_TEXT,
        ticks="inside", ticklen=5, tickwidth=1, tickcolor="black",
        showline=True, linecolor="black", linewidth=1.5, mirror="ticks",
        showgrid=False, zeroline=False,
        tickfont=dict(family=FONT, size=11, color="black"),
        title=dict(text="UT", font=dict(family=FONT, size=11, color="black"), standoff=2),
    )
    lo, hi = Y_RANGES[i]
    layout[ykey] = dict(
        domain=DOMAINS[i], anchor=xa, range=[lo, hi],
        tickmode="linear", tick0=lo, dtick=10,
        ticks="inside", ticklen=5, tickwidth=1, tickcolor="black",
        showline=True, linecolor="black", linewidth=1.5, mirror="ticks",
        showgrid=False, zeroline=False,
        tickfont=dict(family=FONT, size=11, color="black"),
        title=dict(text=Y_LABELS[i], font=dict(family=FONT, size=11, color="black"), standoff=8),
    )

fig.update_layout(**layout)
fig.write_html("out.html")
